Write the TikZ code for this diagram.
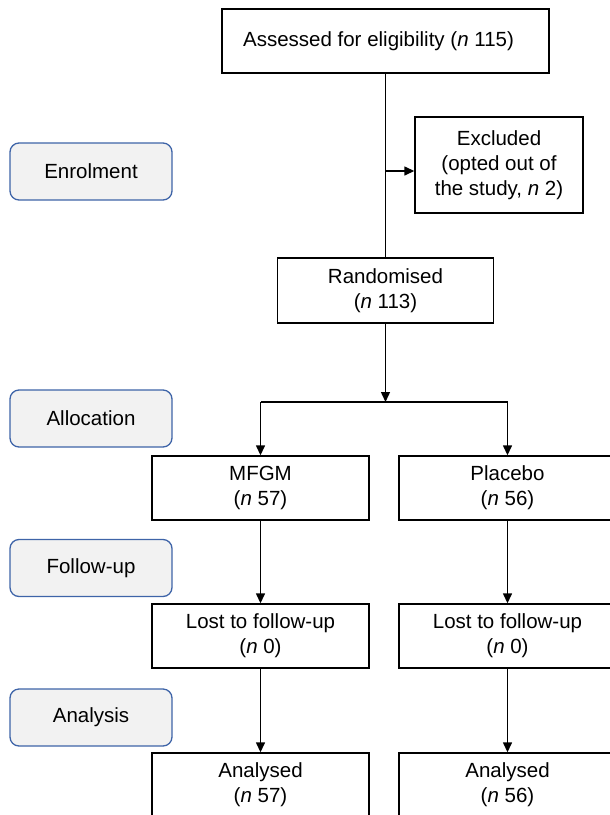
\documentclass[tikz,border=0pt]{standalone}
\usepackage{fontspec}
\setmainfont{Liberation Sans}
\usetikzlibrary{arrows.meta}
\definecolor{stageborder}{HTML}{3E64A8}
\definecolor{stagefill}{HTML}{F2F2F2}
\tikzset{
  flowbox/.style={draw=black, line width=1.4pt, fill=white, inner sep=0pt, align=center,
    font=\fontsize{20.5}{24.7}\selectfont},
  stagebox/.style={draw=stageborder, line width=1.3pt, fill=stagefill, rounded corners=9pt,
    inner sep=0pt, minimum width=162pt, minimum height=57pt, align=center,
    font=\fontsize{20.5}{24.7}\selectfont},
  conn/.style={line width=1.4pt, draw=black},
  arr/.style={conn, -{Triangle[length=10pt,width=9pt]}}
}
\begin{document}
\begin{tikzpicture}[x=1pt,y=-1pt]
\useasboundingbox (0,0) rectangle (610,815);
\clip (0,0) rectangle (610,815);
% stage labels
\node[stagebox] (enrol) at (91,171.5) {Enrolment};
\node[stagebox] (alloc) at (91,418.5) {Allocation};
\node[stagebox] (follow) at (91,568) {Follow-up};
\node[stagebox] (analysis) at (91,717.5) {Analysis};
% flow boxes
\node[flowbox, minimum width=327pt, minimum height=64pt] (assess) at (385.5,41) {Assessed for eligibility (\textit{n} 115)\hspace{14pt}};
\node[flowbox, minimum width=168pt, minimum height=96pt] (excl) at (499,165) {Excluded\\(opted out of\\the study, \textit{n} 2)};
\node[flowbox, minimum width=216pt, minimum height=65pt] (rand) at (385.5,290.5) {Randomised\\(\textit{n} 113)\hspace{14pt}};
\node[flowbox, minimum width=217pt, minimum height=64pt] (mfgm) at (260.5,488) {MFGM\\(\textit{n} 57)\hspace{6pt}};
\node[flowbox, minimum width=217pt, minimum height=64pt] (plac) at (507.5,488) {Placebo\\(\textit{n} 56)\hspace{10pt}};
\node[flowbox, minimum width=217pt, minimum height=64pt] (lost1) at (260.5,636) {Lost to follow-up\\(\textit{n} 0)};
\node[flowbox, minimum width=217pt, minimum height=64pt] (lost2) at (507.5,636) {Lost to follow-up\\(\textit{n} 0)\hspace{6pt}};
\node[flowbox, minimum width=217pt, minimum height=64pt] (an1) at (260.5,785) {Analysed\\(\textit{n} 57)\hspace{6pt}};
\node[flowbox, minimum width=217pt, minimum height=64pt] (an2) at (507.5,785) {Analysed\\(\textit{n} 56)\hspace{10pt}};
% connectors
\coordinate (jexcl) at (385.5,171);
\coordinate (br) at (385.5,402);
\draw[conn] (assess.south) -- (rand.north);
\draw[arr] (jexcl) -- (jexcl -| excl.west);
\draw[arr] (rand.south) -- (br);
\draw[conn] (br -| mfgm.north) -- (br -| plac.north);
\draw[arr] (br -| mfgm.north) -- (mfgm.north);
\draw[arr] (br -| plac.north) -- (plac.north);
\draw[arr] (mfgm.south) -- (lost1.north);
\draw[arr] (plac.south) -- (lost2.north);
\draw[arr] (lost1.south) -- (an1.north);
\draw[arr] (lost2.south) -- (an2.north);
\end{tikzpicture}
\end{document}
